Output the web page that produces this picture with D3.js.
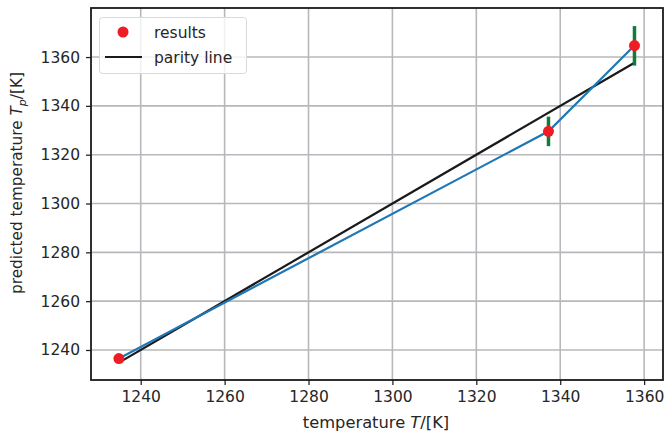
<!DOCTYPE html>
<html><head><meta charset="utf-8">
<script src="https://cdn.jsdelivr.net/npm/d3@7"></script>
<style>body{margin:0;background:#fff;} text{font-family:"DejaVu Sans",sans-serif;fill:#262626;}</style>
</head><body><svg id="c" width="665" height="435"></svg>
<script>
const actualT = [1234.8, 1337.2, 1357.7];
const predictedT = [1236.5, 1329.6, 1364.7];
const errLow = [1236.5, 1323.5, 1356.5];
const errHigh = [1236.5, 1335.6, 1372.7];
const parityX = [1234.8, 1357.7];
const xTicks = [1240, 1260, 1280, 1300, 1320, 1340, 1360];
const yTicks = [1240, 1260, 1280, 1300, 1320, 1340, 1360];
const legendLabels = ["results", "parity line"];

const svg = d3.select("#c");
const L = 91, R = 663, T = 8, B = 380;
const x = d3.scaleLinear().domain([1228.15, 1364.5]).range([L, R]);
const y = d3.scaleLinear().domain([1227.7, 1380.1]).range([B, T]);

// grid
svg.append("g").selectAll("line").data(xTicks).join("line")
  .attr("x1", d => x(d)).attr("x2", d => x(d)).attr("y1", T).attr("y2", B)
  .attr("stroke", "#b8b8bc").attr("stroke-width", 1.6);
svg.append("g").selectAll("line").data(yTicks).join("line")
  .attr("y1", d => y(d)).attr("y2", d => y(d)).attr("x1", L).attr("x2", R)
  .attr("stroke", "#b8b8bc").attr("stroke-width", 1.6);

// axes
const xa = svg.append("g").attr("transform", `translate(0,${B})`)
  .call(d3.axisBottom(x).tickValues(xTicks).tickSize(5).tickPadding(6).tickFormat(d3.format("d")));
const ya = svg.append("g").attr("transform", `translate(${L},0)`)
  .call(d3.axisLeft(y).tickValues(yTicks).tickSize(5).tickPadding(6).tickFormat(d3.format("d")));
[xa, ya].forEach(a => {
  a.select(".domain").remove();
  a.selectAll("line").attr("stroke", "#262626").attr("stroke-width", 1.3);
  a.selectAll("text").attr("font-size", 15.5).attr("font-family", "DejaVu Sans").attr("fill", "#262626");
});

// parity line
svg.append("line").attr("x1", x(parityX[0])).attr("y1", y(parityX[0]))
  .attr("x2", x(parityX[1])).attr("y2", y(parityX[1]))
  .attr("stroke", "#1a1a1a").attr("stroke-width", 2.2);

// predicted line
svg.append("path").datum(actualT.map((d, i) => [d, predictedT[i]]))
  .attr("d", d3.line().x(d => x(d[0])).y(d => y(d[1])))
  .attr("fill", "none").attr("stroke", "#1f77b4").attr("stroke-width", 2.2);

// error bars
svg.append("g").selectAll("line").data(actualT).join("line")
  .attr("x1", d => x(d)).attr("x2", d => x(d))
  .attr("y1", (d, i) => y(errLow[i])).attr("y2", (d, i) => y(errHigh[i]))
  .attr("stroke", "#0e7d3a").attr("stroke-width", 3.5);

// points
svg.append("g").selectAll("circle").data(actualT).join("circle")
  .attr("cx", d => x(d)).attr("cy", (d, i) => y(predictedT[i])).attr("r", 5.5)
  .attr("fill", "#ee1c25");

// spines
svg.append("rect").attr("x", L).attr("y", T).attr("width", R - L).attr("height", B - T)
  .attr("fill", "none").attr("stroke", "#1a1a1a").attr("stroke-width", 1.8);

// legend
const lg = svg.append("g");
lg.append("rect").attr("x", 99.5).attr("y", 17.5).attr("width", 147).attr("height", 56).attr("rx", 3)
  .attr("fill", "#fff").attr("fill-opacity", 0.8).attr("stroke", "#d9d9d9");
lg.append("circle").attr("cx", 123).attr("cy", 32).attr("r", 5.5).attr("fill", "#ee1c25");
lg.append("line").attr("x1", 105).attr("x2", 142).attr("y1", 57).attr("y2", 57).attr("stroke", "#1a1a1a").attr("stroke-width", 2.2);
lg.selectAll("text").data(legendLabels).join("text")
  .attr("x", 154).attr("y", (d, i) => 38 + i * 25).attr("font-size", 15.5).text(d => d);

// axis labels
const xl = svg.append("text").attr("x", 376).attr("y", 428).attr("text-anchor", "middle").attr("font-size", 16.3);
xl.append("tspan").text("temperature ");
xl.append("tspan").attr("font-style", "italic").text("T");
xl.append("tspan").text("/[K]");
const yl = svg.append("text").attr("transform", `translate(22,183) rotate(-90)`).attr("text-anchor", "middle").attr("font-size", 15.3);
yl.append("tspan").text("predicted temperature ");
yl.append("tspan").attr("font-style", "italic").text("T");
yl.append("tspan").attr("font-style", "italic").attr("font-size", 11).attr("dy", 4).text("p");
yl.append("tspan").attr("dy", -4).text("/[K]");
</script></body></html>
